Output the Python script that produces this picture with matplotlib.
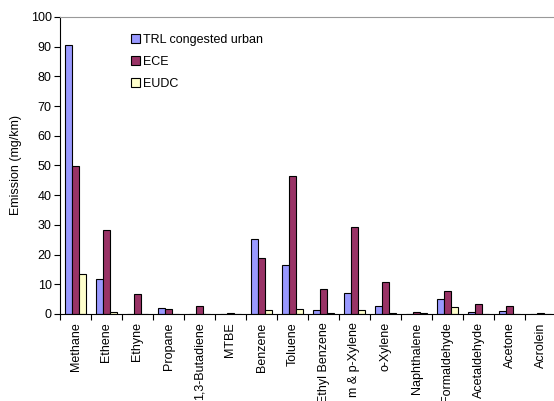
import matplotlib
matplotlib.use("Agg")
import matplotlib.pyplot as plt
import numpy as np

plt.rcParams['font.family'] = ['Liberation Sans', 'DejaVu Sans']

categories = ["Methane", "Ethene", "Ethyne", "Propane", "1,3-Butadiene", "MTBE",
              "Benzene", "Toluene", "Ethyl Benzene", "m & p-Xylene", "o-Xylene",
              "Naphthalene", "Formaldehyde", "Acetaldehyde", "Acetone", "Acrolein"]
trl = [90.6, 11.7, 0.1, 1.9, 0.1, 0.0, 25.1, 16.4, 1.2, 7.2, 2.7, 0.1, 4.9, 0.6, 1.0, 0.0]
ece = [49.7, 28.2, 6.6, 1.6, 2.7, 0.2, 19.0, 46.5, 8.3, 29.3, 10.9, 0.6, 7.7, 3.2, 2.7, 0.5]
eudc = [13.5, 0.8, 0.1, 0.1, 0.1, 0.0, 1.3, 1.7, 0.2, 1.2, 0.3, 0.2, 2.3, 0.1, 0.1, 0.0]
series_names = ["TRL congested urban", "ECE", "EUDC"]
colors = ["#9999FF", "#993366", "#FFFFCC"]
yticks = [0, 10, 20, 30, 40, 50, 60, 70, 80, 90, 100]

W, H = 554, 401
fig = plt.figure(figsize=(W / 100, H / 100), dpi=100)
ax = fig.add_axes([60 / W, 1 - 314 / H, 496 / W, 297 / H])

x = np.arange(len(categories))
bw = 0.233
handles = []
for k, (vals, c, name) in enumerate(zip([trl, ece, eudc], colors, series_names)):
    b = ax.bar(x + (k - 1) * bw, vals, width=bw, color=c, edgecolor="black",
               linewidth=0.8, label=name)
    handles.append(b)

ax.set_xlim(-0.5, len(categories) - 0.5)
ax.set_ylim(0, 100)
ax.set_yticks(yticks)
ax.tick_params(axis='y', labelsize=9, length=4, width=0.8, direction='out', pad=2)
ax.set_xticks(x)
ax.set_xticklabels(categories, rotation=90, fontsize=9)
ax.tick_params(axis='x', which='major', length=0, pad=6)
ax.set_xticks(np.arange(-0.5, len(categories), 1.0), minor=True)
ax.tick_params(axis='x', which='minor', length=4, width=0.8, direction='out')
ax.set_ylabel("Emission (mg/km)", fontsize=9, labelpad=6)

ax.spines['right'].set_visible(False)
ax.spines['top'].set_color("#999999")
ax.spines['left'].set_linewidth(0.8)
ax.spines['bottom'].set_linewidth(0.8)

leg = ax.legend(handles=handles, labels=series_names, loc="upper left",
                bbox_to_anchor=(131 / W, 1 - 34 / H), bbox_transform=fig.transFigure,
                frameon=False, fontsize=9, handlelength=0.75, handleheight=0.75,
                handletextpad=0.2, labelspacing=0.8, borderpad=0, borderaxespad=0)

fig.savefig("out.png", dpi=100)
